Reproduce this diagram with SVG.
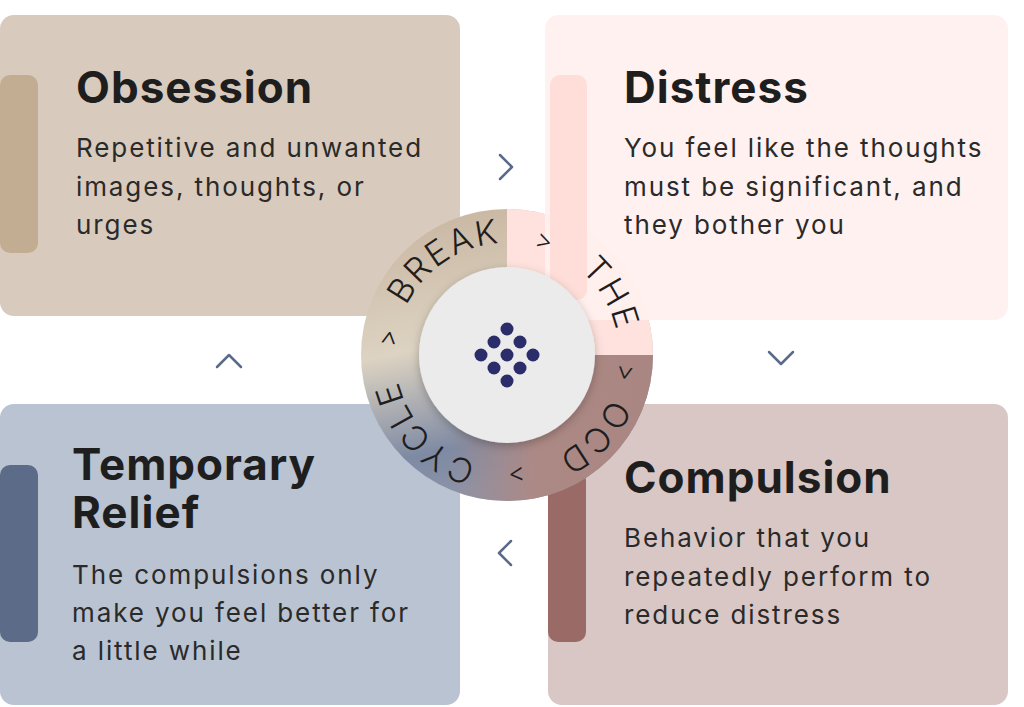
<svg xmlns="http://www.w3.org/2000/svg" width="1024" height="707" viewBox="0 0 1024 707">
<style>
.t{font-family:Inter,"Open Sans",sans-serif;font-weight:700;font-size:44px;fill:#1e1e1e;letter-spacing:1px}
.b{font-family:Inter,"Open Sans",sans-serif;font-size:26px;fill:#2a2a2a;letter-spacing:1.9px}
.r{font-family:Inter,"Open Sans",sans-serif;font-weight:300;font-size:34px;fill:#1e1e1e;letter-spacing:2px}
.c{font-family:Inter,"Open Sans",sans-serif;font-weight:300;font-size:26px;fill:#1e1e1e}
.ch{fill:none;stroke:#5a6a8a;stroke-width:2.5;stroke-linecap:round;stroke-linejoin:round}
.dot{fill:#2b2d6b}
</style>
<defs>
<linearGradient id="vert" x1="0" y1="0" x2="0.2" y2="1">
<stop offset="0" stop-color="#c6b39e"/><stop offset="0.5" stop-color="#ddd3c2"/><stop offset="0.85" stop-color="#7e8aa3"/><stop offset="1" stop-color="#8a93a8"/>
</linearGradient>
<linearGradient id="mauve" x1="0" y1="0" x2="1" y2="0">
<stop offset="0.3" stop-color="#ad8985" stop-opacity="0"/><stop offset="0.6" stop-color="#ad8985" stop-opacity="1"/><stop offset="1" stop-color="#a98682"/>
</linearGradient>
<filter id="sh" x="-20%" y="-20%" width="140%" height="140%"><feDropShadow dx="0" dy="3" stdDeviation="5" flood-opacity="0.25"/></filter>
<path id="ring" d="M395,355 A112,112 0 1 1 619,355 A112,112 0 1 1 395,355"/>
</defs>
<g id="obsession">
<rect x="0" y="15" width="460" height="301" rx="14" fill="#d8cbbd"/>
<rect x="0" y="75" width="38" height="178" rx="10" fill="#c2ad93"/>
<text class="t" x="76" y="103">Obsession</text>
<text class="b" x="76" y="157">Repetitive and unwanted</text>
<text class="b" x="76" y="196">images, thoughts, or</text>
<text class="b" x="76" y="234">urges</text>
</g>
<g id="relief">
<rect x="0" y="404" width="460" height="301" rx="14" fill="#b9c3d1"/>
<rect x="0" y="465" width="38" height="177" rx="10" fill="#5b6b88"/>
<text class="t" x="72" y="480">Temporary</text>
<text class="t" x="72" y="528">Relief</text>
<text class="b" x="72" y="584">The compulsions only</text>
<text class="b" x="72" y="622">make you feel better for</text>
<text class="b" x="72" y="660">a little while</text>
</g>
<g id="compulsion">
<rect x="548" y="404" width="460" height="301" rx="14" fill="#d8c7c4"/>
<rect x="548" y="470" width="38" height="172" rx="10" fill="#9a6b66"/>
<text class="t" x="624" y="493">Compulsion</text>
<text class="b" x="624" y="547">Behavior that you</text>
<text class="b" x="624" y="586">repeatedly perform to</text>
<text class="b" x="624" y="624">reduce distress</text>
</g>
<g id="center">
<circle cx="507" cy="355" r="146" fill="url(#vert)"/>
<path d="M361,355 A146,146 0 0 0 653,355 Z" fill="url(#mauve)"/>
<path d="M507,209 A146,146 0 0 1 653,355 L507,355 Z" fill="#ffe2dd"/>
</g>
<g id="distress">
<rect x="545" y="15" width="463" height="305" rx="14" fill="#fff0ee" opacity="0.92"/>
<rect x="550" y="75" width="37" height="225" rx="10" fill="#ffdcd6" opacity="0.9"/>
<text class="t" x="624" y="103">Distress</text>
<text class="b" x="624" y="157">You feel like the thoughts</text>
<text class="b" x="624" y="196">must be significant, and</text>
<text class="b" x="624" y="234">they bother you</text>
</g>
<g id="ringtext">
<circle cx="507" cy="355" r="88" fill="#ebebeb" filter="url(#sh)"/>
<text class="r" text-anchor="middle"><textPath href="#ring" startOffset="110">BREAK</textPath></text>
<text class="c" text-anchor="middle"><textPath href="#ring" startOffset="211">&gt;</textPath></text>
<text class="r" text-anchor="middle"><textPath href="#ring" startOffset="292">THE</textPath></text>
<text class="c" text-anchor="middle"><textPath href="#ring" startOffset="368">&gt;</textPath></text>
<text class="r" text-anchor="middle"><textPath href="#ring" startOffset="436">OCD</textPath></text>
<text class="c" text-anchor="middle"><textPath href="#ring" startOffset="518">&gt;</textPath></text>
<text class="r" text-anchor="middle"><textPath href="#ring" startOffset="618">CYCLE</textPath></text>
<text class="c" text-anchor="middle"><textPath href="#ring" startOffset="16">&gt;</textPath></text>
<circle class="dot" cx="507" cy="329" r="6.5"/>
<circle class="dot" cx="494" cy="342" r="6.5"/>
<circle class="dot" cx="520" cy="342" r="6.5"/>
<circle class="dot" cx="481" cy="355" r="6.5"/>
<circle class="dot" cx="507" cy="355" r="6.5"/>
<circle class="dot" cx="533" cy="355" r="6.5"/>
<circle class="dot" cx="494" cy="368" r="6.5"/>
<circle class="dot" cx="520" cy="368" r="6.5"/>
<circle class="dot" cx="507" cy="381" r="6.5"/>
</g>
<g id="connectors">
<path class="ch" d="M500,155 L512,167 L500,179"/>
<path class="ch" d="M769,352 L781,364 L793,352"/>
<path class="ch" d="M511,541 L499,553 L511,565"/>
<path class="ch" d="M217,367 L229,355 L241,367"/>
</g>
</svg>
